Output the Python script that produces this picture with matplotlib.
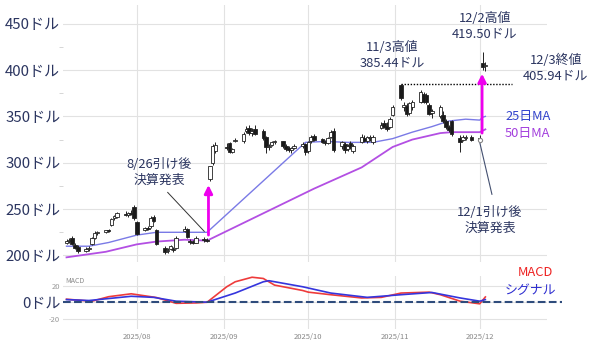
import matplotlib
matplotlib.use('Agg')
import matplotlib.pyplot as plt
import matplotlib.dates as mdates
from matplotlib.ticker import MultipleLocator
from datetime import datetime

# 日本語フォント
plt.rcParams['font.family'] = ['Noto Sans CJK JP', 'DejaVu Sans']

# 日足データ (2025/07/07 - 2025/12/03)
dates = [
    "2025-07-07", "2025-07-08", "2025-07-09", "2025-07-10", "2025-07-11",
    "2025-07-14", "2025-07-15", "2025-07-16", "2025-07-17", "2025-07-18",
    "2025-07-21", "2025-07-22", "2025-07-23", "2025-07-24", "2025-07-25",
    "2025-07-28", "2025-07-29", "2025-07-30", "2025-07-31",
    "2025-08-01", "2025-08-04", "2025-08-05", "2025-08-06", "2025-08-07",
    "2025-08-08", "2025-08-11", "2025-08-12", "2025-08-13", "2025-08-14",
    "2025-08-15", "2025-08-18", "2025-08-19", "2025-08-20", "2025-08-21",
    "2025-08-22", "2025-08-25", "2025-08-26", "2025-08-27", "2025-08-28",
    "2025-08-29",
    "2025-09-02", "2025-09-03", "2025-09-04", "2025-09-05", "2025-09-08",
    "2025-09-09", "2025-09-10", "2025-09-11", "2025-09-12", "2025-09-15",
    "2025-09-16", "2025-09-17", "2025-09-18", "2025-09-19", "2025-09-22",
    "2025-09-23", "2025-09-24", "2025-09-25", "2025-09-26", "2025-09-29",
    "2025-09-30",
    "2025-10-01", "2025-10-02", "2025-10-03", "2025-10-06", "2025-10-07",
    "2025-10-08", "2025-10-09", "2025-10-10", "2025-10-13", "2025-10-14",
    "2025-10-15", "2025-10-16", "2025-10-17", "2025-10-20", "2025-10-21",
    "2025-10-22", "2025-10-23", "2025-10-24", "2025-10-27", "2025-10-28",
    "2025-10-29", "2025-10-30", "2025-10-31",
    "2025-11-03", "2025-11-04", "2025-11-05", "2025-11-06", "2025-11-07",
    "2025-11-10", "2025-11-11", "2025-11-12", "2025-11-13", "2025-11-14",
    "2025-11-17", "2025-11-18", "2025-11-19", "2025-11-20", "2025-11-21",
    "2025-11-24", "2025-11-25", "2025-11-26", "2025-11-28",
    "2025-12-01", "2025-12-02", "2025-12-03",
]
opens = [
    214, 216, 219, 211, 209, 205, 207, 212, 219, 224, 225, 227, 233, 240, 242,
    245, 244, 246, 252,
    236, 228, 230, 232, 242, 227, 208, 205, 207, 207, 208, 226, 229, 216, 215,
    214, 218, 217, 283, 300, 313,
    317, 321, 312, 324, 323, 334, 337, 332, 336, 334, 328, 317, 319, 322, 323,
    318, 316, 314, 316, 318, 320,
    313, 323, 329, 326, 322, 321, 328, 334, 318, 320, 315, 321, 313, 322, 327,
    324, 327, 322, 338, 343, 340, 339, 352,
    384, 360, 361, 354, 360, 365, 374, 373, 362, 354, 350, 352, 345, 339, 345,
    327, 325, 327, 328,
    326, 408, 404,
]
highs = [
    218, 219, 221, 213, 211, 209, 210, 220, 226, 226, 228, 229, 240, 244, 247,
    248, 247, 249, 254,
    237, 231, 232, 243, 244, 229, 210, 208, 211, 209, 221, 232, 230, 218, 217,
    221, 220, 219, 297, 320, 322,
    321, 322, 316, 327, 333, 340, 341, 337, 341, 336, 329, 320, 324, 325, 324,
    320, 318, 317, 320, 322, 321,
    323, 330, 331, 327, 325, 328, 335, 337, 324, 322, 320, 323, 320, 331, 330,
    329, 330, 330, 344, 346, 344, 349, 362,
    385.44, 365, 364, 366, 368, 378, 376, 375, 364, 358, 362, 356, 347, 341, 346,
    330, 330, 330, 330,
    330, 419.5, 409,
]
lows = [
    212, 213, 211, 207, 203, 204, 205, 211, 218, 222, 224, 225, 232, 238, 240,
    243, 242, 244, 238,
    222, 226, 227, 230, 236, 211, 202, 203, 206, 204, 207, 225, 219, 212, 212,
    213, 215, 215, 280, 298, 311,
    314, 311, 310, 322, 321, 332, 330, 329, 330, 325, 310, 314, 318, 320, 316,
    313, 312, 311, 315, 316, 308,
    311, 321, 323, 321, 319, 320, 327, 312, 315, 311, 313, 315, 311, 321, 322,
    321, 324, 320, 336, 338, 334, 337, 350,
    368, 356, 350, 352, 357, 364, 364, 363, 352, 348, 348, 343, 336, 333, 329,
    312, 323, 325, 324,
    322, 400, 399,
]
closes = [
    216, 217, 212, 208, 205, 207, 208, 219, 224, 225, 227, 226, 239, 243, 246,
    244, 246, 245, 240,
    223, 230, 229, 240, 237, 212, 204, 206, 210, 206, 219, 229, 220, 215, 214,
    219, 217, 216, 296, 318, 319,
    316, 312, 315, 325, 331, 336, 332, 334, 331, 327, 317, 318, 322, 323, 318,
    315, 314, 316, 318, 320, 312,
    322, 328, 325, 322, 321, 327, 333, 314, 322, 314, 318, 317, 318, 328, 323,
    328, 327, 328, 341, 339, 336, 347, 360,
    370, 362, 353, 364, 366, 376, 366, 365, 353, 356, 360, 345, 339, 335, 331,
    322, 328, 328, 325,
    327, 403, 405.94,
]

# 移動平均 (欠損区間は直線でつながっている)
ma25_dates = ["2025-07-07", "2025-07-15", "2025-07-22", "2025-08-01", "2025-08-08",
              "2025-08-15", "2025-08-26", "2025-09-30", "2025-10-07", "2025-10-15",
              "2025-10-24", "2025-10-31", "2025-11-07", "2025-11-14", "2025-11-20",
              "2025-11-26", "2025-12-01", "2025-12-02", "2025-12-03"]
ma25_values = [210, 210, 214, 222, 225, 225, 225, 322, 323, 322,
               322, 326, 333, 339, 345, 347, 346, 349, 350]
ma50_dates = ["2025-07-07", "2025-07-21", "2025-08-01", "2025-08-08", "2025-08-18",
              "2025-08-26", "2025-10-03", "2025-10-20", "2025-10-31", "2025-11-07",
              "2025-11-17", "2025-11-21", "2025-12-01", "2025-12-03"]
ma50_values = [198, 204, 212, 215, 217, 216, 272, 295, 317, 325,
               332, 333, 333, 336]

# MACD / シグナル
macd_dates = ["2025-07-07", "2025-07-16", "2025-07-22", "2025-07-30", "2025-08-08",
              "2025-08-15", "2025-08-22", "2025-08-26", "2025-09-02", "2025-09-05",
              "2025-09-11", "2025-09-15", "2025-09-19", "2025-09-29", "2025-10-01",
              "2025-10-09", "2025-10-20", "2025-10-27", "2025-11-03", "2025-11-13",
              "2025-11-17", "2025-11-24", "2025-12-01", "2025-12-03"]
macd_values = [4, 1.5, 7, 10.5, 6, -1, -0.5, 0.3, 19, 25,
               30.5, 29, 21, 14.5, 12.5, 9.4, 5.5, 6.2, 11.4, 12.5,
               9.4, 1.6, -1.6, 6.7]
signal_dates = ["2025-07-07", "2025-07-15", "2025-07-30", "2025-08-07", "2025-08-15",
                "2025-08-26", "2025-09-05", "2025-09-15", "2025-09-17", "2025-09-29",
                "2025-10-09", "2025-10-22", "2025-11-03", "2025-11-14", "2025-11-24",
                "2025-12-01", "2025-12-03"]
signal_values = [3.5, 2.4, 7.5, 6.2, 1.6, 0.4, 11.4, 25, 26.3, 19,
                 11.4, 6.2, 9.4, 12.1, 5.5, 1.6, 3.5]


def to_dt(s):
    return datetime.strptime(s, "%Y-%m-%d")


navy = '#2b3560'
grid_c = '#e2e2e2'
fs = 9.3

fig = plt.figure(figsize=(6.0, 3.42), dpi=100)
ax = fig.add_axes([0.105, 0.234, 0.807, 0.751])
ax2 = fig.add_axes([0.105, 0.038, 0.807, 0.155], sharex=ax)

# ローソク足
for d, o, h, l, c in zip(dates, opens, highs, lows, closes):
    dt = to_dt(d)
    ax.vlines(dt, l, h, color='#222222', lw=0.7, zorder=3)
    body = max(abs(c - o), 0.9)
    ax.bar(dt, body, bottom=min(o, c), width=1.25,
           color='#1a1a1a' if c < o else 'white', edgecolor='#222222', lw=0.6, zorder=4)

ax.plot([to_dt(d) for d in ma25_dates], ma25_values, color='#7a7ae6', lw=1.0, zorder=2)
ax.plot([to_dt(d) for d in ma50_dates], ma50_values, color='#b34fe3', lw=1.3, zorder=2)

ax.set_xlim(datetime(2025, 7, 5, 18), datetime(2025, 12, 25))
ax.set_ylim(193, 470)
ax.set_yticks(range(200, 451, 50))
ax.set_yticklabels([f"{v}ドル" for v in range(200, 451, 50)], fontsize=10.8, color=navy)
ax.yaxis.set_minor_locator(MultipleLocator(25))
ax.tick_params(axis='y', which='major', length=0, pad=2)
ax.tick_params(axis='y', which='minor', length=3, color='#d0d0d0')
ax.tick_params(axis='x', length=0, labelbottom=False)
ax.xaxis.set_major_locator(mdates.MonthLocator())
ax.grid(True, color=grid_c, lw=0.8)
ax.set_axisbelow(True)
for s in ax.spines.values():
    s.set_visible(False)

# 決算の矢印
arrow = dict(arrowstyle='-|>', color='#ee00ee', lw=2, mutation_scale=12, shrinkA=0, shrinkB=0)
ax.annotate('', xy=(datetime(2025, 8, 26, 12), 276), xytext=(datetime(2025, 8, 26, 12), 222),
            arrowprops=arrow, zorder=6)
ax.annotate('', xy=(datetime(2025, 12, 1, 20), 396), xytext=(datetime(2025, 12, 1, 20), 332),
            arrowprops=arrow, zorder=6)

# 11/3高値の点線
ax.hlines(385.44, to_dt("2025-11-03"), datetime(2025, 12, 12, 12), colors='black',
          linestyles=(0, (1, 1.2)), lw=1.0, zorder=5)

# 引き出し線
ax.plot([datetime(2025, 8, 12), datetime(2025, 8, 25)], [268, 226], color='#333333', lw=0.7, zorder=5)
ax.plot([datetime(2025, 12, 1), datetime(2025, 12, 5, 8)], [322, 266], color='#445070', lw=0.8, zorder=5)
ax.plot([to_dt("2025-12-01")], [325], marker='o', ms=3, mfc='white', mec='#888888', mew=0.8, zorder=6)

ax.text(datetime(2025, 8, 9), 290, "8/26引け後\n決算発表", ha='center', va='center',
        fontsize=fs, color=navy, linespacing=1.3)
ax.text(datetime(2025, 10, 31), 416, "11/3高値\n385.44ドル", ha='center', va='center',
        fontsize=fs, color=navy, linespacing=1.2)
ax.text(datetime(2025, 12, 2, 20), 447, "12/2高値\n419.50ドル", ha='center', va='center',
        fontsize=fs, color=navy, linespacing=1.2, clip_on=False)
ax.text(datetime(2025, 12, 28), 402, "12/3終値\n405.94ドル", ha='center', va='center',
        fontsize=fs, color=navy, linespacing=1.2, clip_on=False)
ax.text(datetime(2025, 12, 10), 350, "25日MA", ha='left', va='center',
        fontsize=fs, color='#3344cc', clip_on=False)
ax.text(datetime(2025, 12, 10), 332, "50日MA", ha='left', va='center',
        fontsize=fs, color='#a33fdd', clip_on=False)
ax.text(datetime(2025, 12, 4, 14), 238, "12/1引け後\n決算発表", ha='center', va='center',
        fontsize=fs, color=navy, linespacing=1.3)

# MACDパネル
ax2.plot([to_dt(d) for d in macd_dates], macd_values, color='#ee3b3b', lw=1.2)
ax2.plot([to_dt(d) for d in signal_dates], signal_values, color='#3535dd', lw=1.2)
ax2.axhline(0, xmax=1.03, color='#2f4c7c', ls='--', lw=1.5, clip_on=False)
ax2.set_ylim(-32, 32)
ax2.set_yticks([-20, 0, 20])
ax2.set_yticklabels(["-20", "0ドル", "20"])
for lbl in ax2.get_yticklabels():
    if lbl.get_text() == "0ドル":
        lbl.set_fontsize(10.8)
        lbl.set_color(navy)
    else:
        lbl.set_fontsize(5.5)
        lbl.set_color('#999999')
ax2.tick_params(axis='y', length=0, pad=2)
ax2.tick_params(axis='x', length=0, labelsize=5.5, labelcolor='#888888', pad=3)
ax2.xaxis.set_major_locator(mdates.MonthLocator())
ax2.xaxis.set_major_formatter(mdates.DateFormatter('%Y/%m'))
ax2.grid(True, color=grid_c, lw=0.8)
ax2.set_axisbelow(True)
for s in ax2.spines.values():
    s.set_visible(False)
ax2.text(0.005, 0.98, "MACD", transform=ax2.transAxes, fontsize=5, color='#888888',
         ha='left', va='top')

fig.text(535 / 600, 1 - 272 / 342, "MACD", ha='center', va='center', fontsize=fs, color='#ee2222')
fig.text(530 / 600, 1 - 290 / 342, "シグナル", ha='center', va='center', fontsize=fs, color='#2f2fd0')

fig.savefig('out.png', dpi=100)
plt.close(fig)
